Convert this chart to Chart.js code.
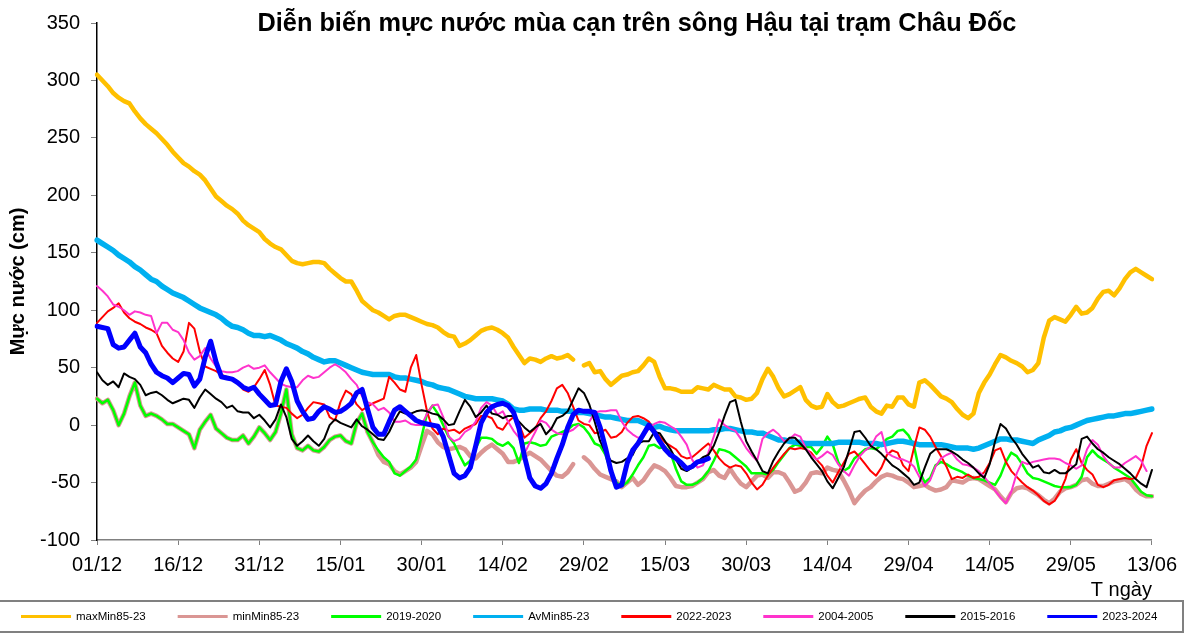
<!DOCTYPE html>
<html>
<head>
<meta charset="utf-8">
<script src="https://cdn.jsdelivr.net/npm/chart.js@4.4.1/dist/chart.umd.min.js"></script>
<style>
html,body{margin:0;padding:0;background:#fff;}
canvas{display:block;}
</style>
</head>
<body>
<canvas id="c" width="1185" height="634"></canvas>
<script>
// ---------- categories (days 01/12 .. 13/06) ----------
const categories = [];
for (let d = new Date(2023, 11, 1); d <= new Date(2024, 5, 13); d.setDate(d.getDate() + 1)) {
  categories.push(String(d.getDate()).padStart(2, '0') + '/' + String(d.getMonth() + 1).padStart(2, '0'));
}
const tickLabels = ['01/12','16/12','31/12','15/01','30/01','14/02','29/02','15/03','30/03','14/04','29/04','14/05','29/05','13/06'];
const yTicks = [-100, -50, 0, 50, 100, 150, 200, 250, 300, 350];

const titleText = 'Diễn biến mực nước mùa cạn trên sông Hậu tại trạm Châu Đốc';
const yTitle = 'Mực nước (cm)';
const xTitle = 'T ngày';

const seriesNames = ['maxMin85-23','minMin85-23','2019-2020','AvMin85-23','2022-2023','2004-2005','2015-2016','2023-2024'];

// ---------- series values (cm) ----------
const maxMin = [
305,300,295,289,285,282,280,273,267,262,
258,254,249,244,238,233,228,225,221,218,
213,206,199,195,191,188,184,178,174,171,
168,162,158,155,153,148,143,141,140,141,
142,142,141,136,132,128,125,125,117,108,
104,100,98,95,92,95,96,96,94,92,
90,88,87,85,81,78,77,69,71,74,
78,82,84,85,83,80,76,68,61,54,
58,57,55,58,60,58,59,61,57,null,
52,54,46,47,40,35,39,43,44,46,
47,52,58,55,42,32,32,31,29,29,
29,33,32,31,35,33,31,31,25,24,
22,23,28,40,49,42,32,25,27,30,
33,22,17,15,16,27,20,16,17,19,
21,23,24,16,12,10,17,16,24,24,
18,16,37,39,35,30,25,23,20,14,
9,6,10,28,37,44,53,61,59,56,
54,51,46,48,54,76,91,94,92,90,
96,103,97,98,102,110,116,117,113,119,
127,133,136,133,130,127];

const minMin = [
23,19,22,13,0,10,25,37,17,8,
10,8,5,1,1,-2,-5,-8,-20,-4,
3,9,-3,-7,-11,-13,-13,-9,-16,-10,
-2,-7,-13,-6,10,31,-8,-20,-22,-18,
-22,-23,-19,-13,-10,-9,-14,-16,2,10,
-6,-15,-26,-32,-34,-40,-43,-40,-37,-32,
-18,-5,-8,-15,-19,-21,-20,-19,-21,-27,
-29,-24,-20,-17,-21,-25,-32,-32,-30,-27,
-24,-27,-30,-35,-40,-44,-45,-41,-34,null,
-28,-32,-38,-43,-45,-47,-49,-54,-50,-46,
-52,-48,-41,-35,-37,-40,-46,-53,-54,-54,
-53,-50,-47,-41,-39,-44,-46,-38,-45,-51,
-54,-49,-44,-43,-46,-41,-41,-43,-50,-58,
-56,-50,-42,-41,-42,-37,-39,-40,-48,-57,
-68,-62,-57,-54,-49,-45,-43,-44,-46,-47,
-50,-54,-53,-52,-55,-57,-56,-54,-48,-49,
-50,-47,-46,-47,-50,-53,-56,-62,-67,-59,
-55,-54,-55,-58,-61,-65,-68,-64,-58,-55,
-54,-52,-48,-47,-51,-53,-53,-51,-49,-48,
-47,-50,-56,-60,-62,-62];

const y2019 = [
23,19,22,13,0,10,25,37,17,8,
10,8,5,1,1,-2,-5,-8,-20,-4,
3,9,-3,-7,-11,-13,-13,-9,-16,-10,
-2,-7,-13,-6,10,31,-8,-20,-22,-18,
-22,-23,-19,-13,-10,-9,-14,-16,2,10,
-6,-15,-22,-28,-32,-42,-44,-40,-36,-30,
-10,10,17,10,0,-10,-16,-26,-35,-31,
-20,-11,-11,-12,-16,-18,-15,-20,-33,-16,
-15,-16,-18,-17,-10,-8,-6,-4,0,1,
-2,-8,-16,-18,-26,-40,-50,-53,-50,-43,
-35,-28,-18,-17,-20,-19,-24,-38,-49,-52,
-52,-50,-46,-40,-31,-21,-22,-24,-28,-32,
-36,-42,-42,-42,-43,-39,-32,-26,-20,-17,
-18,-19,-19,-25,-19,-10,-17,-32,-40,-37,
-29,-25,-21,-20,-21,-17,-12,-10,-5,-4,
-9,-18,-40,-50,-46,-35,-32,-34,-37,-39,
-41,-44,-46,-47,-48,-50,-52,-44,-32,-24,
-27,-34,-42,-46,-47,-49,-51,-53,-54,-54,
-54,-52,-45,-28,-22,-27,-30,-33,-37,-40,
-43,-46,-52,-58,-61,-62];

const avMin = [
161,158,155,152,148,145,142,138,135,131,
127,125,121,118,115,113,111,108,105,102,
100,98,96,93,89,86,85,83,80,78,
78,77,78,76,74,71,69,67,64,62,
59,57,55,56,56,54,52,50,48,46,
45,44,44,44,44,42,41,41,40,39,
38,36,35,33,32,31,29,27,25,24,
23,23,23,23,22,21,18,14,13,13,
14,14,14,13,13,13,12,12,12,11,
11,10,9,8,7,7,6,5,4,4,
4,2,0,-2,-1,-3,-4,-5,-5,-5,
-5,-5,-5,-5,-4,-4,-3,-3,-4,-5,
-6,-6,-7,-7,-9,-11,-13,-13,-14,-15,
-15,-16,-16,-16,-16,-16,-16,-15,-15,-15,
-15,-15,-16,-16,-16,-17,-16,-15,-14,-14,
-15,-16,-17,-17,-17,-17,-17,-18,-19,-20,
-20,-20,-21,-20,-18,-16,-14,-12,-12,-13,
-13,-14,-15,-16,-13,-11,-9,-6,-5,-3,
-2,0,2,4,5,6,7,8,8,9,
10,10,11,12,13,14];

const y2022 = [
89,94,99,102,106,98,93,90,88,85,
83,80,69,63,58,55,64,89,84,64,
51,49,47,44,42,39,37,31,29,33,
40,48,35,17,16,15,10,6,9,15,
20,19,18,7,4,20,30,27,18,13,
16,19,21,23,42,37,31,29,50,61,
35,12,-3,-8,-3,-5,-4,-7,-3,-1,
1,8,8,6,-2,-4,3,7,1,-11,
-7,-3,6,12,21,32,35,28,16,4,
1,0,-7,-6,-4,-11,-10,-6,2,7,
8,6,3,-4,-10,-15,-18,-21,-27,-29,
-28,-24,-20,-16,-22,-29,-34,-37,-35,-36,
-42,-50,-56,-52,-44,-37,-31,-25,-20,-21,
-20,-21,-24,-30,-35,-44,-50,-41,-33,-25,
-23,-28,-34,-40,-44,-37,-26,-22,-24,-35,
-40,-20,-2,-4,-10,-19,-27,-36,-47,-45,
-46,-43,-46,-45,-41,-33,-22,-20,-32,-40,
-45,-50,-54,-57,-61,-66,-69,-66,-58,-47,
-30,-21,-33,-39,-43,-52,-54,-52,-48,-47,
-46,-47,-46,-36,-18,-7];

const y2004 = [
121,117,112,105,103,100,96,99,98,96,
95,80,89,89,83,81,74,63,57,60,
67,58,51,47,46,46,47,50,52,49,
50,52,46,41,36,34,33,33,39,43,
41,42,46,50,53,50,46,40,35,25,
20,18,13,15,11,3,3,4,1,0,
0,10,17,18,7,-10,-14,-12,-6,-3,
3,15,20,17,9,12,3,-5,-11,-25,
-15,-6,4,2,-4,-7,-8,-6,-4,0,
null,3,11,12,12,13,13,3,-4,-8,
-11,-10,-3,1,3,2,-1,-4,-10,-17,
-30,-37,-35,-24,-10,5,0,-3,-5,-12,
-20,-26,-31,-12,-7,-4,-8,-14,-12,-8,
-10,-20,-26,-30,-27,-23,-26,-34,-40,-44,
-35,-27,-22,-19,-10,-6,-24,-27,-29,-30,
-32,-36,-45,-53,-48,-36,-29,-26,-24,-30,
-34,-35,-37,-40,-45,-51,-57,-63,-68,-58,
-42,-32,-34,-32,-31,-30,-29,-29,-30,-33,
-35,-38,-35,-21,-13,-17,-27,-33,-37,-37,
-33,-30,-27,-31,-40];

const y2015 = [
46,39,35,38,33,45,42,40,35,26,
28,29,26,22,19,21,23,22,15,24,
31,27,23,20,15,17,12,11,11,6,
9,4,-2,5,18,7,-12,-18,-14,-9,
-14,-18,-12,0,5,2,0,-2,5,-1,
-4,-8,-12,-13,-6,4,12,10,10,12,
13,12,10,9,5,0,1,12,22,16,
7,11,17,10,9,6,8,8,3,-2,
-6,-2,1,-8,-3,6,8,12,22,32,
28,18,3,-14,-24,-31,-33,-32,-29,-26,
-16,-14,-14,-6,-7,-14,-21,-30,-38,-40,
-37,-32,-28,-26,-18,-6,8,20,22,3,
-14,-23,-31,-40,-42,-31,-23,-16,-11,-11,
-16,-21,-28,-34,-40,-49,-55,-46,-37,-22,
-6,-5,-11,-18,-21,-25,-30,-35,-38,-42,
-46,-52,-50,-37,-25,-21,-21,-21,-23,-26,
-30,-33,-37,-42,-46,-34,-14,1,-3,-11,
-17,-25,-31,-37,-35,-41,-42,-39,-42,-42,
-38,-34,-12,-10,-16,-21,-24,-28,-31,-34,
-38,-42,-47,-51,-54,-39];

const y2023 = [
86,85,84,70,67,68,74,80,68,63,
53,46,43,41,37,41,45,44,34,40,
59,73,55,42,41,40,37,33,31,33,
27,22,17,18,38,49,38,21,12,5,
6,12,16,14,11,12,15,19,28,31,
14,-2,-8,-8,3,13,16,12,8,4,
2,1,0,-1,-10,-26,-42,-46,-44,-37,
-18,2,11,16,18,19,17,11,-3,-27,
-46,-53,-55,-51,-42,-29,-17,-2,9,13,
12,12,11,-2,-20,-40,-54,-52,-33,-22,
-16,-8,0,-6,-14,-21,-26,-29,-33,-38,
-36,-32,-31,-29];

// ---------- styles ----------
const FONT = "'Liberation Sans', Arial, Helvetica, sans-serif";
const seriesData = [maxMin, minMin, y2019, avMin, y2022, y2004, y2015, y2023];
const seriesColors = ['#FFC000','#DA9694','#00FF00','#00B0F0','#FF0000','#FF33CC','#000000','#0000FF'];
const seriesWidths = [4.5, 4.5, 2.5, 5.5, 2, 2, 2, 5];

const datasets = seriesNames.map((name, i) => ({
  label: name,
  data: seriesData[i],
  borderColor: seriesColors[i],
  backgroundColor: seriesColors[i],
  borderWidth: seriesWidths[i],
  pointRadius: 0,
  pointHoverRadius: 0,
  tension: 0,
  fill: false,
  spanGaps: false,
  borderJoinStyle: 'round',
  borderCapStyle: 'round',
  order: seriesNames.length - i
}));

const decorPlugin = {
  id: 'decor',
  afterDraw(chart) {
    const ctx = chart.ctx;
    ctx.save();
    // title
    ctx.fillStyle = '#000';
    ctx.font = 'bold 25.3px ' + FONT;
    ctx.textAlign = 'center';
    ctx.textBaseline = 'alphabetic';
    ctx.fillText(titleText, 637, 31);
    // legend frame
    ctx.strokeStyle = '#808080';
    ctx.lineWidth = 2;
    ctx.strokeRect(-2, 601, chart.width + 0, 31);
    // legend items
    ctx.font = '11.5px ' + FONT;
    ctx.textAlign = 'left';
    ctx.textBaseline = 'middle';
    let x = 21;
    const y = 616.5;
    seriesNames.forEach((name, i) => {
      ctx.strokeStyle = seriesColors[i];
      ctx.lineWidth = 3;
      ctx.beginPath();
      ctx.moveTo(x, y);
      ctx.lineTo(x + 50, y);
      ctx.stroke();
      ctx.fillStyle = '#000';
      ctx.fillText(name, x + 55, y);
      x += 55 + ctx.measureText(name).width + 32;
    });
    ctx.restore();
  }
};

Chart.defaults.font.family = FONT;
Chart.defaults.color = '#000';

new Chart(document.getElementById('c'), {
  type: 'line',
  data: { labels: categories, datasets },
  options: {
    responsive: false,
    animation: false,
    devicePixelRatio: 1,
    layout: { padding: { left: 0, right: 30, top: 17, bottom: 33 } },
    plugins: {
      legend: { display: false },
      title: { display: false },
      tooltip: { enabled: false }
    },
    scales: {
      x: {
        type: 'category',
        offset: false,
        grid: { display: true, drawOnChartArea: false, drawTicks: true, tickLength: 5, color: '#808080' },
        border: { display: true, color: '#808080', width: 1.5 },
        ticks: {
          autoSkip: false,
          maxRotation: 0,
          minRotation: 0,
          padding: 8,
          font: { size: 20 },
          color: '#000',
          callback: function (v, i) {
            const lab = categories[i];
            return tickLabels.includes(lab) ? lab : null;
          }
        },
        title: {
          display: true,
          text: xTitle,
          align: 'end',
          font: { size: 20 },
          color: '#000',
          padding: { top: 0, bottom: -1 }
        },
        afterFit: (s) => { s.height = 61; }
      },
      y: {
        min: -100,
        max: 350,
        grid: { display: true, drawOnChartArea: false, drawTicks: true, tickLength: 6, color: '#808080' },
        border: { display: true, color: '#000', width: 1.5 },
        afterBuildTicks: (s) => { s.ticks = yTicks.map(v => ({ value: v })); },
        ticks: {
          padding: 11,
          font: { size: 20 },
          color: '#000'
        },
        title: {
          display: true,
          text: yTitle,
          font: { size: 20, weight: 'bold' },
          color: '#000',
          padding: { top: 6, bottom: 0 }
        },
        afterFit: (s) => { s.width = 97; }
      }
    }
  },
  plugins: [decorPlugin]
});
</script>
</body>
</html>
